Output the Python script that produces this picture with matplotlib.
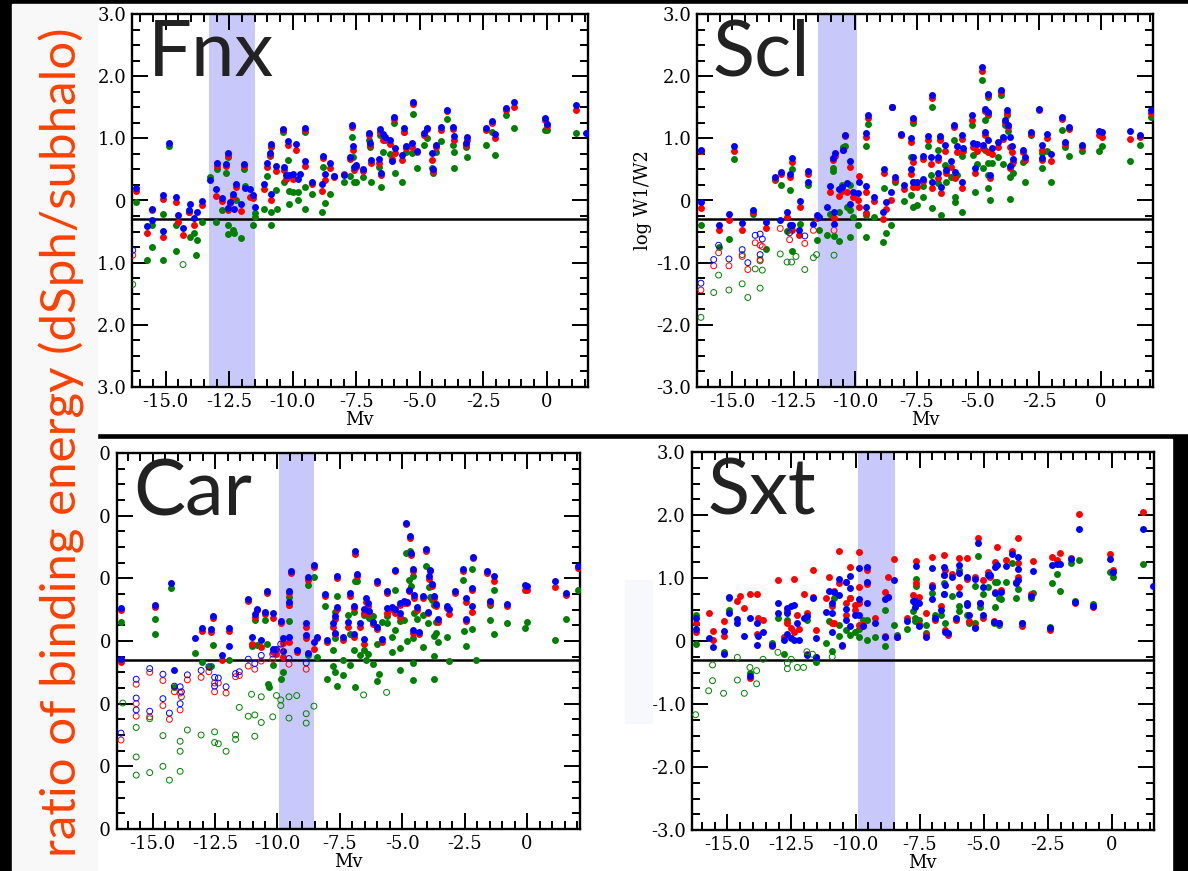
import numpy as np
import matplotlib.pyplot as plt
from matplotlib.patches import Rectangle
from matplotlib.ticker import MultipleLocator, FuncFormatter

nan = np.nan

# rows: Mv, blue, red, green  (log W1/W2)
fnx_rows = np.array([
    (-16.18, 0.20, 0.16, -0.02), (-15.54, -0.13, -0.16, -0.40), (-15.54, -0.32, nan, -0.74),
    (-15.72, -0.41, -0.52, -0.96), (-15.11, 0.09, 0.02, -0.22), (-15.11, -0.49, -0.59, -0.96),
    (-14.89, 0.93, nan, 0.88), (-14.58, 0.06, -0.02, -0.40), (-14.58, nan, nan, -0.81),
    (-14.50, -0.23, -0.35, nan), (-14.32, -0.44, -0.56, nan), (-14.10, -0.16, -0.18, -0.18),
    (-14.04, -0.05, nan, -0.59), (-13.87, -0.28, -0.40, -0.53), (-13.82, nan, nan, -0.88),
    (-13.76, -0.18, nan, -0.64), (-13.58, -0.01, -0.07, -0.35), (-13.24, 0.33, nan, 0.37),
    (-13.04, 0.19, 0.07, -0.35), (-13.00, 0.60, 0.55, 0.51), (-12.78, 0.04, -0.01, -0.15),
    (-12.63, 0.58, 0.55, 0.45), (-12.56, 0.76, 0.72, 0.70), (-12.54, -0.12, -0.15, -0.54),
    (-12.54, nan, nan, -0.39), (-12.48, -0.03, -0.04, nan), (-12.36, 0.10, 0.06, -0.47),
    (-12.30, -0.13, nan, -0.52), (-12.23, 0.26, 0.22, 0.01), (-12.03, -0.05, -0.17, -0.61),
    (-11.91, 0.58, 0.55, 0.51), (-11.88, 0.20, nan, 0.23), (-11.68, 0.18, 0.06, nan),
    (-11.58, 0.09, 0.04, -0.39), (-11.50, -0.11, nan, -0.20), (-11.50, nan, nan, -0.27),
    (-11.13, 0.27, 0.19, -0.13), (-11.00, 0.61, 0.54, 0.39), (-10.88, 0.76, 0.73, 0.71),
    (-10.84, 0.91, 0.88, 0.86), (-10.84, 0.10, 0.01, -0.39), (-10.84, nan, nan, -0.18),
    (-10.64, 0.56, 0.48, 0.17), (-10.60, nan, nan, -0.13), (-10.40, 1.15, 1.14, 1.10),
    (-10.34, 0.54, 0.49, 0.29), (-10.25, 0.41, 0.35, nan), (-10.19, 0.95, 0.90, 0.65),
    (-10.16, 0.41, nan, 0.16), (-10.16, nan, nan, -0.06), (-10.00, 0.43, 0.34, 0.13),
    (-9.87, 0.91, 0.82, nan), (-9.81, 0.34, nan, 0.13), (-9.81, nan, nan, 0.01),
    (-9.72, 0.42, nan, nan), (-9.53, 0.64, 0.56, 0.22), (-9.51, 1.16, 1.13, 1.10),
    (-9.53, nan, nan, -0.13), (-9.24, 0.30, 0.26, 0.11), (-8.86, 0.26, 0.16, -0.19),
    (-8.79, 0.72, 0.69, 0.54), (-8.74, 0.42, 0.33, -0.04), (-8.53, 0.61, 0.52, 0.11),
    (-8.38, 0.40, 0.38, 0.40), (-8.00, 0.41, 0.42, 0.29), (-7.75, 0.70, 0.66, 0.40),
    (-7.66, 1.22, 1.18, 1.02), (-7.64, 0.88, 0.82, 0.70), (-7.58, 0.54, 0.49, 0.30),
    (-7.51, 0.57, 0.54, 0.30), (-7.25, 0.50, 0.48, 0.38), (-7.01, 1.09, 1.05, 0.97),
    (-6.96, 0.93, 0.89, 0.86), (-6.90, 0.65, 0.60, 0.30), (-6.60, 0.66, 0.60, 0.54),
    (-6.56, 1.15, 1.10, 1.05), (-6.51, 0.44, 0.41, 0.21), (-6.45, 1.07, 0.98, 0.78),
    (-6.38, 1.02, 0.97, nan), (-6.18, 0.97, 0.91, 0.74), (-6.00, 1.34, 1.31, 1.24),
    (-5.97, 0.85, 0.77, 0.45), (-6.08, 0.64, 0.66, nan), (-5.70, 0.73, 0.65, 0.29),
    (-5.62, 1.17, 1.10, 1.10), (-5.55, 0.87, 0.84, 0.78), (-5.32, 0.93, 0.86, 0.76),
    (-5.25, 1.58, 1.55, 1.39), (-5.10, 0.80, 0.78, 0.53), (-4.84, 1.09, 1.05, 0.90),
    (-4.72, 1.17, 1.15, 1.00), (-4.52, 0.77, 0.65, 0.52), (-4.49, 0.50, 0.48, 0.44),
    (-4.34, 0.90, 0.86, 0.78), (-4.16, 1.18, 1.14, 0.95), (-3.93, 1.46, 1.44, 1.31),
    (-3.69, 1.19, 1.15, 0.90), (-3.66, 1.03, 0.98, 0.78), (-3.66, nan, nan, 0.52),
    (-3.18, 0.93, 0.90, 0.86), (-3.13, 1.02, 0.98, 0.70), (-2.38, 1.17, 1.13, 0.90),
    (-2.16, 1.28, 1.25, 1.10), (-2.03, 1.07, 1.01, 0.73), (-1.60, 1.49, 1.46, 1.38),
    (-1.28, 1.58, 1.50, 1.17), (-0.06, 1.33, 1.30, 1.14), (0.00, 1.23, 1.20, 1.14),
    (1.16, 1.53, 1.45, 1.09), (1.54, 1.09, nan, nan),
])
fnx_open_blue = [(-16.30, -0.80)]
fnx_open_red = [(-16.30, -0.88)]
fnx_open_green = [(-16.30, -1.35), (-14.32, -1.03)]

scl_rows = np.array([
    (-16.28, 0.82, 0.80, 0.80), (-16.28, -0.03, -0.12, -0.39), (-15.56, -0.39, -0.48, -0.74),
    (-15.14, -0.22, -0.32, -0.62), (-14.94, 0.88, 0.80, 0.67), (-14.60, -0.36, -0.48, nan),
    (-14.15, -0.16, -0.18, -0.22), (-13.61, -0.34, -0.45, -0.78), (-13.26, 0.37, 0.35, 0.33),
    (-13.02, 0.46, 0.43, 0.25), (-13.05, -0.32, nan, nan), (-12.77, -0.18, -0.26, -0.49),
    (-12.67, 0.43, 0.37, 0.17), (-12.67, -0.40, nan, nan), (-12.59, 0.68, 0.62, 0.50),
    (-12.59, -0.39, -0.47, -0.82), (-12.28, -0.47, -0.56, nan), (-12.24, -0.01, -0.10, -0.37),
    (-11.90, 0.47, 0.43, 0.25), (-11.90, 0.29, nan, nan), (-11.70, -0.38, nan, nan),
    (-11.57, -0.24, -0.28, -0.64), (-11.49, -0.27, nan, -0.47), (-11.14, -0.10, nan, -0.56),
    (-11.03, 0.24, 0.13, -0.22), (-10.91, 0.69, 0.65, 0.52), (-10.91, nan, nan, 0.48),
    (-10.86, -0.18, -0.28, -0.57), (-10.86, -0.37, nan, nan), (-10.83, 0.76, 0.72, nan),
    (-10.65, 0.18, 0.08, -0.19), (-10.65, nan, nan, -0.65), (-10.53, 0.22, 0.16, 0.25),
    (-10.48, 0.82, 0.81, 0.86), (-10.42, 1.06, 1.03, 0.88), (-10.35, 0.28, 0.13, -0.10),
    (-10.19, 0.64, 0.54, 0.25), (-10.19, -0.05, nan, -0.16), (-10.19, nan, nan, -0.59),
    (-10.07, 0.13, 0.06, -0.27), (-9.87, 0.12, 0.01, -0.40), (-9.84, 0.30, 0.39, nan),
    (-9.84, nan, -0.10, nan), (-9.54, 1.09, 1.02, 0.88), (-9.48, 1.37, 1.33, 1.23),
    (-9.54, 0.23, 0.13, -0.24), (-9.54, -0.11, -0.20, -0.59), (-9.23, 0.06, -0.01, -0.27),
    (-8.88, -0.18, -0.29, -0.67), (-8.82, 0.51, 0.44, 0.20), (-8.74, -0.02, -0.14, -0.52),
    (-8.54, 0.13, 0.01, -0.39), (-8.50, 1.51, 1.50, 1.50), (-8.39, 0.38, 0.33, 0.30),
    (-8.12, 1.07, 1.06, 1.06), (-8.01, 0.25, 0.18, -0.01), (-7.74, 0.51, 0.43, 0.09),
    (-7.71, 1.01, 0.94, 0.70), (-7.63, 1.33, 1.29, 1.24), (-7.66, 0.70, 0.62, 0.29),
    (-7.66, 0.30, 0.22, -0.10), (-7.50, 0.30, 0.22, -0.07), (-7.25, 0.35, 0.31, 0.06),
    (-7.22, 0.72, 0.66, 0.23), (-7.02, 1.03, 0.98, 0.87), (-6.91, 0.70, 0.59, 0.41),
    (-6.88, 1.69, 1.65, 1.50), (-6.88, 0.30, 0.20, -0.12), (-6.64, 0.44, 0.36, 0.28),
    (-6.64, 0.70, 0.65, 0.82), (-6.55, 1.03, 0.98, 1.00), (-6.52, 0.22, 0.12, -0.23),
    (-6.36, 0.90, 0.80, 0.57), (-6.30, 0.49, 0.44, 0.29), (-6.10, 0.64, 0.54, 0.38),
    (-5.98, 1.21, 1.18, 0.98), (-5.95, 0.46, 0.36, 0.06), (-5.95, nan, nan, -0.02),
    (-5.87, 0.87, 0.78, 0.41), (-5.64, 1.05, 0.99, 0.71), (-5.64, 0.30, 0.20, -0.19),
    (-5.60, 0.84, 0.80, nan), (-5.26, 1.37, 1.30, 1.21), (-5.22, 0.93, 0.86, 0.73),
    (-5.11, 0.52, 0.44, 0.14), (-5.03, 0.91, 0.80, 0.58), (-4.84, 2.14, 2.09, 1.94),
    (-4.81, 0.89, 0.84, 0.52), (-4.73, 1.47, 1.44, 1.29), (-4.73, 1.10, 1.05, 0.81),
    (-4.58, 1.72, 1.69, 1.66), (-4.58, 1.42, 1.39, 1.37), (-4.58, 0.97, 0.78, 0.60),
    (-4.58, nan, nan, 0.41), (-4.58, nan, nan, 0.20), (-4.50, 0.41, 0.36, 0.01),
    (-4.42, 0.84, 0.74, 0.61), (-4.20, 0.94, 0.86, 0.70), (-4.04, 1.78, 1.74, 1.70),
    (-3.97, 1.02, 0.99, 0.59), (-3.89, 1.30, 1.26, 1.21), (-3.81, 1.45, 1.40, 1.37),
    (-3.77, 1.21, 1.18, 1.12), (-3.69, 1.02, 0.86, 0.38), (-3.69, 0.55, 0.52, 0.02),
    (-3.62, 0.87, 0.78, 0.59), (-3.59, 0.66, 0.62, 0.44), (-3.16, 0.82, 0.78, 0.62),
    (-3.08, 0.70, 0.65, 0.29), (-2.85, 1.10, 1.07, 1.05), (-2.52, 1.47, 1.46, nan),
    (-2.39, 0.89, 0.81, 0.52), (-2.39, 0.69, 0.65, 0.76), (-2.17, 1.07, 1.01, 0.79),
    (-2.01, 0.74, 0.63, 0.30), (-1.57, 1.35, 1.31, 1.14), (-1.45, 0.94, 0.91, 0.86),
    (-1.30, 1.18, 1.15, 0.72), (-0.76, 0.89, 0.86, 0.80), (-0.08, 1.11, 1.05, 0.79),
    (0.04, 1.10, 1.02, 0.87), (1.18, 1.11, 0.99, 0.63), (1.60, 1.05, 1.02, 0.90),
    (2.06, 1.45, 1.41, 1.35),
])
scl_open_blue = [(-16.28, -1.33), (-15.56, -0.72), (-15.76, -0.95), (-15.14, -0.94), (-14.60, -0.79),
                 (-14.37, -1.00), (-14.07, -0.56), (-13.87, -0.54), (-13.87, -0.87), (-13.78, -0.62),
                 (-12.67, -0.52), (-12.05, -0.57)]
scl_open_red = [(-16.28, -1.44), (-15.56, -0.84), (-15.76, -1.05), (-15.14, -1.05), (-14.60, -0.90),
                (-14.37, -1.11), (-14.07, -0.68), (-13.87, -0.72), (-13.87, -0.97), (-13.78, -0.74),
                (-13.05, -0.45), (-12.67, -0.63), (-12.05, -0.69), (-11.70, -0.48), (-10.86, -0.48)]
scl_open_green = [(-16.28, -1.88), (-15.56, -1.20), (-15.76, -1.48), (-15.14, -1.44), (-14.60, -0.87),
                  (-14.60, -1.34), (-14.37, -1.56), (-14.07, -1.10), (-13.87, -0.95), (-13.87, -1.41),
                  (-13.78, -1.12), (-13.05, -0.86), (-12.77, -0.99), (-12.59, -0.99), (-12.41, -0.90),
                  (-12.05, -1.11), (-11.70, -0.92), (-11.57, -0.87), (-10.86, -0.88)]

car_rows = np.array([
    (-16.27, 0.52, 0.49, 0.30), (-16.27, -0.29, -0.33, nan), (-14.92, 0.57, 0.54, 0.35),
    (-14.92, nan, nan, 0.11), (-14.28, 0.93, nan, 0.85), (-14.13, -0.47, nan, -0.74),
    (-13.29, 0.04, nan, -0.19), (-13.01, 0.20, 0.16, -0.33), (-12.75, nan, nan, -0.41),
    (-12.67, 0.19, 0.15, -0.40), (-12.58, 0.40, 0.37, -0.06), (-12.24, -0.23, -0.30, nan),
    (-11.94, 0.20, 0.16, -0.30), (-11.94, -0.08, nan, nan), (-11.17, 0.67, 0.64, 0.65),
    (-11.04, 0.06, -0.04, -0.08), (-10.91, 0.43, 0.39, 0.33), (-10.84, 0.51, 0.49, -0.06),
    (-10.65, 0.02, -0.09, nan), (-10.50, 0.47, 0.43, 0.33), (-10.41, 0.80, 0.76, -0.04),
    (-10.38, nan, nan, -0.68), (-10.33, nan, nan, -0.73), (-10.19, 0.45, 0.36, -0.38),
    (-10.19, -0.12, -0.17, nan), (-10.04, -0.12, -0.20, nan), (-9.87, 0.32, 0.28, -0.61),
    (-9.76, 0.04, -0.03, -0.49), (-9.76, -0.16, -0.25, nan), (-9.54, 0.80, 0.76, 0.71),
    (-9.54, 0.63, 0.58, 0.57), (-9.54, 0.07, -0.02, 0.32), (-9.46, 1.11, 1.08, nan),
    (-9.23, -0.15, -0.18, nan), (-8.85, 0.28, 0.23, nan), (-8.85, 0.10, 0.04, nan),
    (-8.77, 1.02, 0.97, 0.90), (-8.77, -0.19, nan, -0.22), (-8.54, 1.21, 1.18, 1.02),
    (-8.54, -0.02, -0.12, nan), (-8.42, 0.07, 0.04, -0.25), (-8.11, 0.75, 0.72, 0.56),
    (-8.03, 0.02, -0.01, -0.60), (-7.78, 0.29, 0.23, -0.15), (-7.78, nan, nan, -0.40),
    (-7.70, 0.40, 0.35, 0.47), (-7.70, 0.13, 0.11, 0.04), (-7.70, nan, nan, -0.50),
    (-7.62, 1.03, 1.00, 0.72), (-7.62, 0.55, 0.51, -0.72), (-7.39, 0.07, 0.02, -0.30),
    (-7.39, nan, nan, -0.54), (-7.19, 0.31, 0.23, 0.41), (-7.09, 0.76, 0.72, 0.11),
    (-7.09, nan, nan, -0.38), (-6.93, 0.56, 0.52, 0.47), (-6.93, 0.11, 0.06, -0.14),
    (-6.89, 1.43, 1.39, 0.95), (-6.89, nan, nan, -0.74), (-6.81, 1.07, 1.03, 0.95),
    (-6.70, 0.28, 0.23, -0.22), (-6.55, 0.51, 0.45, 0.41), (-6.55, 0.03, -0.04, -0.14),
    (-6.47, 0.68, 0.63, -0.30), (-6.37, 0.61, 0.56, -0.21), (-6.33, 0.48, 0.44, 0.37),
    (-6.17, 0.31, 0.27, 0.40), (-6.17, nan, nan, -0.36), (-6.01, 0.96, 0.92, -0.04),
    (-6.01, 0.23, 0.19, -0.64), (-5.93, nan, nan, -0.53), (-5.82, 0.03, -0.01, 0.31),
    (-5.63, 0.79, 0.76, 0.40), (-5.63, 0.52, 0.45, 0.28), (-5.40, 0.55, 0.51, -0.17),
    (-5.40, nan, nan, 0.07), (-5.28, 1.14, 1.11, 0.81), (-5.28, 0.51, 0.45, 0.18),
    (-5.10, 0.45, 0.39, 0.32), (-5.10, 0.60, 0.57, -0.11), (-5.10, nan, nan, -0.46),
    (-4.95, 0.64, 0.60, 0.33), (-4.87, 1.89, 1.86, 1.40), (-4.82, 0.63, 0.60, 0.00),
    (-4.74, 0.82, 0.79, 0.98), (-4.68, 1.68, 1.65, 1.43), (-4.64, 1.41, 1.37, 0.87),
    (-4.59, 1.15, 1.11, 1.03), (-4.59, 0.18, 0.13, 0.04), (-4.59, nan, nan, -0.35),
    (-4.59, nan, nan, -0.62), (-4.53, 0.74, 0.68, 0.44), (-4.41, 0.55, 0.49, 0.35),
    (-4.33, 0.15, 0.11, nan), (-4.18, 0.72, 0.68, 0.41), (-4.18, nan, nan, -0.09),
    (-4.07, 1.47, 1.44, 1.20), (-3.98, 0.47, 0.44, 0.29), (-3.92, 1.03, 0.99, 0.86),
    (-3.87, 1.14, 1.11, 0.71), (-3.80, 0.91, 0.87, 0.65), (-3.72, 0.72, 0.68, 0.58),
    (-3.72, nan, nan, 0.08), (-3.72, nan, nan, -0.24), (-3.72, nan, nan, -0.61),
    (-3.64, 0.59, 0.56, 0.31), (-3.64, nan, nan, 0.12), (-3.57, 0.35, 0.31, -0.02),
    (-3.21, 0.56, 0.53, 0.07), (-3.11, 0.51, 0.43, -0.32), (-2.88, 0.80, 0.77, nan),
    (-2.57, 1.15, 1.11, 0.97), (-2.54, nan, nan, 0.16), (-2.45, 0.35, 0.32, -0.08),
    (-2.45, 0.69, 0.62, nan), (-2.19, 0.85, 0.81, 1.15), (-2.19, 0.56, 0.47, 0.19),
    (-2.15, 1.34, 1.32, nan), (-2.05, nan, nan, -0.30), (-1.62, 1.11, 1.08, nan),
    (-1.50, 0.64, 0.60, 0.58), (-1.50, nan, nan, 0.33), (-1.32, 1.03, 0.95, 0.81),
    (-1.32, nan, nan, 0.11), (-0.81, 0.59, 0.56, 0.28), (-0.08, 0.89, 0.82, 0.20),
    (0.00, 0.87, 0.81, 0.30), (1.13, 0.96, 0.86, 0.01), (1.56, 0.77, 0.74, 0.35),
    (2.02, 1.19, 1.16, 0.81),
])
car_open_blue = [(-16.27, -1.47), (-15.66, -0.61), (-15.66, -0.91), (-15.66, -1.10), (-15.12, -0.44),
                 (-15.12, -1.12), (-14.59, -0.53), (-14.59, -0.92), (-14.33, -1.15), (-14.13, -0.72),
                 (-13.90, -0.73), (-13.90, -1.00), (-13.85, -0.81), (-13.61, -0.54), (-13.06, -0.47),
                 (-12.75, -0.41), (-12.52, -0.58), (-12.52, -0.72), (-12.37, -0.59), (-12.06, -0.73),
                 (-11.68, -0.52), (-11.53, -0.49), (-11.17, -0.29), (-10.91, -0.36), (-10.65, -0.23),
                 (-10.19, -0.21), (-9.87, -0.05), (-9.54, -0.28), (-8.85, -0.35)]
car_open_red = [(-16.27, -1.58), (-15.66, -0.69), (-15.66, -1.00), (-15.66, -1.20), (-15.12, -0.50),
                (-15.12, -1.21), (-14.59, -0.63), (-14.59, -1.03), (-14.33, -1.25), (-14.13, -0.81),
                (-13.90, -0.83), (-13.90, -1.10), (-13.85, -0.89), (-13.61, -0.62), (-13.06, -0.58),
                (-12.75, -0.49), (-12.52, -0.67), (-12.52, -0.81), (-12.37, -0.67), (-12.06, -0.83),
                (-11.68, -0.57), (-11.53, -0.55), (-11.17, -0.40), (-10.91, -0.45), (-10.65, -0.32),
                (-10.19, -0.29), (-9.87, -0.13), (-9.54, -0.37), (-8.85, -0.45)]
car_open_green = [(-16.20, -0.99), (-15.66, -1.38), (-15.66, -1.85), (-15.66, -2.14), (-15.12, -1.24),
                  (-15.12, -2.10), (-14.59, -1.51), (-14.59, -2.00), (-14.33, -2.22), (-13.90, -1.60),
                  (-13.90, -1.76), (-13.90, -2.08), (-13.61, -1.42), (-13.06, -1.50), (-12.52, -1.45),
                  (-12.52, -1.62), (-12.37, -1.64), (-12.06, -1.76), (-11.68, -1.57), (-11.68, -1.50),
                  (-11.53, -1.06), (-11.17, -1.20), (-11.04, -0.85), (-10.91, -1.52), (-10.91, -1.18),
                  (-10.65, -0.89), (-10.65, -1.30), (-10.19, -1.21), (-10.04, -0.87), (-9.87, -0.94),
                  (-9.87, -1.03), (-9.54, -1.23), (-9.54, -0.89), (-9.23, -0.87), (-8.85, -1.31),
                  (-8.85, -1.16), (-8.54, -1.04), (-6.55, -0.86), (-5.63, -0.82)]

sxt_blue = [(-16.24, 0.36), (-16.24, 0.19), (-15.73, 0.04), (-15.58, -0.10), (-15.15, -0.20), (-15.15, 0.16),
            (-14.93, 0.70), (-14.93, 0.45), (-14.61, 0.35), (-14.61, 0.28), (-14.34, 0.08), (-14.12, -0.56),
            (-14.12, 0.36), (-13.86, 0.28), (-13.86, -0.06), (-13.79, 0.08), (-13.61, 0.15), (-13.25, -0.06),
            (-13.03, 0.60), (-13.03, 0.45), (-12.78, 0.01), (-12.66, 0.45), (-12.66, 0.52), (-12.66, 0.11),
            (-12.51, 0.04), (-12.51, 0.56), (-12.40, 0.57), (-12.40, 0.01), (-12.27, 0.29), (-12.22, 0.01),
            (-12.03, 0.36), (-11.90, -0.23), (-11.90, 0.39), (-11.68, 0.68), (-11.56, 0.04), (-11.56, -0.25),
            (-11.15, 0.46), (-11.02, 0.79), (-10.91, 0.60), (-10.91, 0.44), (-10.91, 0.15), (-10.83, 0.77),
            (-10.64, 0.98), (-10.64, 0.73), (-10.54, -0.07), (-10.39, 0.94), (-10.39, 0.51), (-10.39, 0.34),
            (-10.20, 1.03), (-10.20, 0.84), (-10.20, 0.24), (-10.03, 0.41), (-9.85, 1.16), (-9.85, 0.42),
            (-9.85, 0.66), (-9.73, 0.24), (-9.55, 1.17), (-9.55, 0.93), (-9.55, 0.61), (-9.23, 0.28),
            (-8.86, 0.66), (-8.86, 0.07), (-8.74, 0.70), (-8.52, 0.97), (-8.38, 0.06), (-7.98, 0.31),
            (-7.76, 0.64), (-7.69, 0.64), (-7.69, 0.54), (-7.65, 1.19), (-7.54, 0.60), (-7.54, 0.24),
            (-7.25, 0.07), (-7.03, 1.16), (-7.03, 0.86), (-7.03, 0.66), (-6.89, 0.36), (-6.67, 0.49),
            (-6.55, 1.18), (-6.55, 1.04), (-6.55, 0.74), (-6.50, 0.89), (-6.50, 0.15), (-6.40, 0.12),
            (-6.23, 1.02), (-6.08, 0.36), (-5.96, 1.21), (-5.96, 1.08), (-5.96, 0.74), (-5.67, 1.02),
            (-5.67, 0.60), (-5.67, 0.57), (-5.57, 0.41), (-5.35, 0.98), (-5.35, 0.20), (-5.23, 1.55),
            (-5.13, 0.61), (-5.03, 0.85), (-5.03, 0.41), (-4.84, 1.04), (-4.77, 1.04), (-4.62, 0.30),
            (-4.55, 1.18), (-4.55, 0.76), (-4.47, 1.21), (-4.40, 0.29), (-4.33, 0.78), (-4.15, 1.19),
            (-3.89, 1.38), (-3.74, 0.92), (-3.67, 1.34), (-3.67, 1.15), (-3.67, 0.97), (-3.52, 0.28),
            (-3.16, 0.71), (-3.08, 1.11), (-2.43, 0.21), (-2.35, 1.21), (-2.16, 1.22), (-2.02, 1.22),
            (-1.58, 1.30), (-1.43, 0.62), (-1.29, 1.78), (-0.75, 0.56), (-0.06, 1.30), (0.03, 1.09),
            (1.20, 1.78), (1.59, 0.87)]
sxt_red = [(-16.24, 0.29), (-16.24, 0.15), (-15.73, 0.45), (-15.58, 0.01), (-15.58, 0.16), (-15.15, 0.31),
           (-15.15, 0.08), (-14.61, 0.63), (-14.52, 0.72), (-14.34, 0.53), (-14.12, -0.58), (-14.12, 0.74),
           (-13.86, 0.74), (-13.86, 0.11), (-13.79, 0.37), (-13.61, 0.33), (-13.25, -0.08), (-13.03, 0.97),
           (-12.78, 0.07), (-12.66, 0.48), (-12.66, 0.28), (-12.51, 0.20), (-12.40, 0.98), (-12.40, 0.15),
           (-12.27, 0.41), (-12.22, 0.19), (-12.03, 0.74), (-11.90, -0.21), (-11.90, 0.44), (-11.68, 1.12),
           (-11.68, 0.70), (-11.56, 0.17), (-11.56, -0.26), (-11.15, 0.68), (-11.02, 1.01), (-10.91, 0.55),
           (-10.91, 0.29), (-10.83, 0.80), (-10.83, 0.29), (-10.64, 1.43), (-10.64, 0.92), (-10.54, -0.08),
           (-10.39, 0.94), (-10.39, 0.61), (-10.39, 0.41), (-10.20, 1.18), (-10.20, 0.68), (-10.03, 0.50),
           (-10.03, 0.57), (-9.85, 1.42), (-9.85, 0.86), (-9.85, 0.26), (-9.85, 0.60), (-9.73, 0.26),
           (-9.55, 1.13), (-9.55, 0.90), (-9.23, 0.36), (-8.86, 0.77), (-8.86, 0.08), (-8.74, 1.01),
           (-8.74, 0.70), (-8.52, 1.30), (-8.38, 0.07), (-7.98, 0.36), (-7.76, 0.73), (-7.69, 0.60),
           (-7.65, 1.27), (-7.65, 0.92), (-7.54, 0.70), (-7.54, 0.25), (-7.25, 0.10), (-7.25, 0.45),
           (-7.03, 1.33), (-7.03, 0.89), (-6.89, 0.34), (-6.67, 0.56), (-6.55, 1.37), (-6.55, 1.04),
           (-6.50, 1.13), (-6.50, 0.17), (-6.40, 0.10), (-6.23, 1.07), (-6.08, 0.34), (-5.96, 1.32),
           (-5.96, 0.85), (-5.67, 1.32), (-5.67, 0.98), (-5.57, 0.32), (-5.35, 1.02), (-5.35, 0.23),
           (-5.23, 1.63), (-5.13, 0.60), (-5.03, 0.97), (-5.03, 0.36), (-4.84, 1.09), (-4.77, 1.02),
           (-4.62, 0.32), (-4.55, 1.26), (-4.55, 0.78), (-4.47, 1.50), (-4.40, 0.28), (-4.33, 0.81),
           (-4.15, 1.29), (-3.89, 1.43), (-3.74, 0.94), (-3.67, 1.64), (-3.67, 1.24), (-3.67, 1.02),
           (-3.52, 0.24), (-3.16, 0.74), (-3.08, 1.27), (-2.43, 0.17), (-2.35, 1.33), (-2.16, 1.29),
           (-2.02, 1.40), (-1.58, 1.32), (-1.43, 0.60), (-1.29, 2.01), (-0.75, 0.54), (-0.06, 1.38),
           (0.03, 1.12), (1.20, 2.05)]
sxt_green = [(-16.24, 0.42), (-16.24, -0.04), (-15.15, -0.18), (-14.93, 0.68), (-14.93, 0.49), (-14.12, -0.50),
             (-13.25, -0.03), (-13.03, 0.36), (-12.78, -0.20), (-12.66, 0.33), (-11.90, 0.33), (-11.56, -0.34),
             (-11.15, -0.03), (-11.02, 0.32), (-10.91, -0.16), (-10.83, 0.68), (-10.64, 0.26), (-10.64, 0.08),
             (-10.39, 0.17), (-10.20, 0.68), (-10.20, 0.10), (-10.03, 0.15), (-9.85, 0.07), (-9.85, 0.19),
             (-9.73, 0.33), (-9.55, 0.02), (-9.55, 0.33), (-9.23, 0.07), (-8.86, 0.49), (-8.86, -0.08),
             (-8.52, 0.26), (-8.38, 0.10), (-7.98, 0.19), (-7.76, 0.48), (-7.69, 0.36), (-7.69, 0.31),
             (-7.65, 0.99), (-7.65, 0.88), (-7.54, 0.33), (-7.54, 0.27), (-7.25, 0.12), (-7.25, 0.26),
             (-7.03, 0.76), (-6.89, 0.41), (-6.67, 0.41), (-6.55, 0.92), (-6.55, 0.75), (-6.50, 0.28),
             (-6.23, 0.72), (-5.96, 1.13), (-5.96, 0.56), (-5.96, 0.47), (-5.67, 0.42), (-5.57, 0.28),
             (-5.35, 0.87), (-5.35, 0.29), (-5.23, 1.35), (-5.13, 0.54), (-5.03, 0.75), (-4.84, 0.86),
             (-4.62, 0.28), (-4.55, 0.94), (-4.55, 0.54), (-4.47, 0.94), (-4.40, 0.25), (-4.40, 0.68),
             (-4.33, 0.66), (-4.15, 0.94), (-3.89, 1.24), (-3.74, 0.68), (-3.67, 0.82), (-3.52, 0.29),
             (-3.16, 0.69), (-3.08, 0.76), (-2.43, 0.22), (-2.35, 0.92), (-2.16, 1.06), (-2.02, 0.80),
             (-1.58, 1.24), (-1.43, 0.64), (-1.29, 1.29), (-0.75, 0.59), (-0.06, 1.10), (0.03, 1.01),
             (1.20, 1.22)]
sxt_open_green = [(-16.24, -1.17), (-15.58, -0.38), (-15.58, -0.63), (-15.73, -0.79), (-15.15, -0.83),
                  (-14.61, -0.26), (-14.61, -0.62), (-14.34, -0.83), (-14.12, -0.42), (-13.86, -0.47),
                  (-13.86, -0.68), (-13.61, -0.29), (-13.03, -0.18), (-12.66, -0.44), (-12.66, -0.35),
                  (-12.51, -0.29), (-12.27, -0.42), (-12.03, -0.42), (-11.90, -0.17), (-11.68, -0.21),
                  (-10.91, -0.25)]

names = ['Fnx', 'Scl', 'Car', 'Sxt']
bands = [(-13.3, -11.48), (-11.52, -9.92), (-9.94, -8.52), (-9.91, -8.46)]
xlims = [(-16.33, 1.61), (-16.44, 2.13), (-16.43, 2.12), (-16.40, 1.64)]
threshold = -0.3

BLUE, RED, GREEN = '#0000ff', '#ff0000', '#008000'

W, H = 1188, 871
plt.rcParams['axes.unicode_minus'] = False
fig = plt.figure(figsize=(W / 100, H / 100), dpi=100, facecolor='black')


def px(l, t, r, b):
    return [l / W, 1 - b / H, (r - l) / W, (b - t) / H]


# slide background pieces
fig.patches.append(Rectangle((97 / W, 1 - 433 / H), (W - 97) / W, 429 / H,
                             transform=fig.transFigure, color='white', zorder=-2))
fig.patches.append(Rectangle((97 / W, 0), (1172 - 97) / W, 1 - 439 / H,
                             transform=fig.transFigure, color='white', zorder=-2))


def fmt(v, _):
    return '0' if abs(v) < 1e-9 else f'{v:.1f}'


def rows_split(rows):
    return [(rows[:, 0], rows[:, k]) for k in (3, 2, 1)]


def pts(lst):
    a = np.array(lst)
    return a[:, 0], a[:, 1]


def panel(pos, i, filled, opens, ylabel=None):
    ax = fig.add_axes(pos)
    ax.set_xlim(*xlims[i])
    ax.set_ylim(-3, 3)
    ax.axvspan(*bands[i], color='#c8c8fa', lw=0, zorder=1)
    ax.axhline(threshold, color='black', lw=1.8, zorder=2)
    for (x, y), c in zip(filled, (GREEN, RED, BLUE)):
        ax.scatter(x, y, s=25, color=c, lw=0, zorder=3)
    for (x, y), c in zip(opens, (GREEN, RED, BLUE)):
        if len(x):
            ax.scatter(x, y, s=18, facecolors='none', edgecolors=c, lw=0.7, zorder=3)
    ax.xaxis.set_major_locator(MultipleLocator(2.5))
    ax.xaxis.set_minor_locator(MultipleLocator(0.5))
    ax.yaxis.set_major_locator(MultipleLocator(1.0))
    ax.yaxis.set_minor_locator(MultipleLocator(0.25))
    ax.xaxis.set_major_formatter(FuncFormatter(fmt))
    ax.yaxis.set_major_formatter(FuncFormatter(fmt))
    ax.tick_params(which='both', direction='in', top=True, right=True, width=1.4,
                   labelsize=13, labelfontfamily='DejaVu Serif', pad=4)
    ax.tick_params(which='major', length=11.5)
    ax.tick_params(which='minor', length=5.8)
    for s in ax.spines.values():
        s.set_linewidth(1.7)
    ax.set_xlabel('Mv', family='DejaVu Serif', fontsize=13, labelpad=0)
    if ylabel:
        ax.set_ylabel(ylabel, family='DejaVu Serif', fontsize=13, labelpad=3)
    ax.text(0.035, 0.835, names[i], transform=ax.transAxes, family='Lato',
            fontsize=56, color='#222222', zorder=4, va='baseline')
    return ax


empty = (np.array([]), np.array([]))
panel(px(132, 14, 587.5, 387), 0, rows_split(fnx_rows),
      [pts(fnx_open_green), pts(fnx_open_red), pts(fnx_open_blue)])
panel(px(697, 14, 1153, 387), 1, rows_split(scl_rows),
      [pts(scl_open_green), pts(scl_open_red), pts(scl_open_blue)], ylabel='log W1/W2')
panel(px(117, 453, 580, 829), 2, rows_split(car_rows),
      [pts(car_open_green), pts(car_open_red), pts(car_open_blue)])
panel(px(691.5, 452, 1154, 830), 3, [pts(sxt_green), pts(sxt_red), pts(sxt_blue)],
      [pts(sxt_open_green), empty, empty])

# light side column with the shared label, and a faint patch over the Sxt ylabel
fig.patches.append(Rectangle((12 / W, 0), 85 / W, 1 - 4 / H, transform=fig.transFigure,
                             color='#f8f8f8', zorder=5))
fig.patches.append(Rectangle((625 / W, 1 - 723 / H), 27 / W, 143 / H, transform=fig.transFigure,
                             color='#f7f8fd', zorder=5))
fig.text(62 / W, 1 - 442 / H, 'ratio of binding energy (dSph/subhalo)', rotation=90,
         ha='center', va='center', family='Lato', fontsize=35.5, color='#ff4000', zorder=6)

fig.savefig('out.png', dpi=100, facecolor='black')
